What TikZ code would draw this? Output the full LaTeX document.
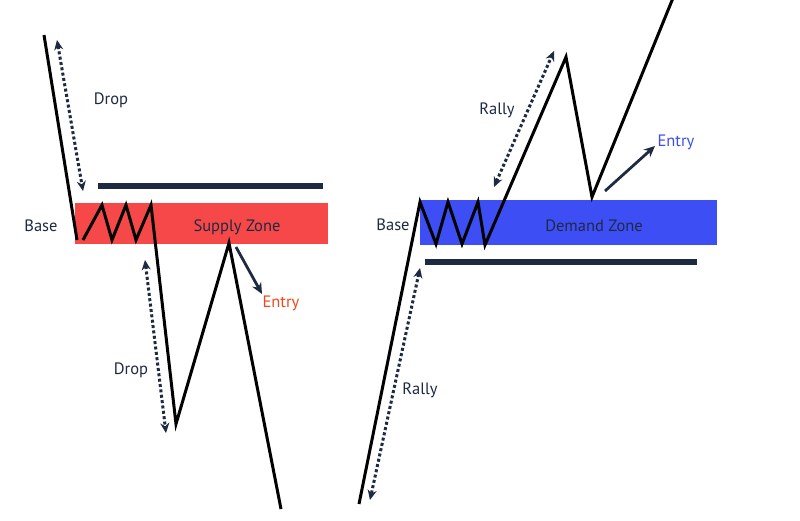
\documentclass[tikz,border=0pt]{standalone}
\usepackage{fontspec}
\setmainfont{PT Sans}
\usetikzlibrary{arrows.meta}
\definecolor{navy}{RGB}{30,42,66}
\definecolor{supred}{RGB}{246,72,72}
\definecolor{demblue}{RGB}{62,78,245}
\definecolor{entryred}{RGB}{240,72,30}
\definecolor{entryblue}{RGB}{60,80,230}
\begin{document}
\begin{tikzpicture}[x=1pt,y=-1pt,
  price/.style={line width=3pt,black,line join=miter},
  level/.style={line width=5.5pt,navy},
  move/.style={line width=3pt,navy,dash pattern=on 3pt off 2.4pt,{Stealth[length=10pt,width=9pt]}-{Stealth[length=10pt,width=9pt]}},
  entryarrow/.style={line width=2.8pt,navy,-{Stealth[length=11pt,width=10pt]}},
  lbl/.style={font=\fontsize{16.5}{18}\selectfont,text=navy,inner sep=0pt}]
\useasboundingbox (0,0) rectangle (800,520);
\fill[white] (0,0) rectangle (800,520);
% ---------- Supply side ----------
\fill[supred] (75,203) rectangle (328,244);
\node[lbl] (sz) at (237,227) {Supply Zone};
\draw[level] (98,186) coordinate (sl1) -- (323,186) coordinate (sl2);
\coordinate (s0) at (44,35);
\coordinate (s1) at (77,240);
\draw[price] (s0) -- (s1);
\coordinate (b1) at (83,240);
\coordinate (b2) at (102,205);
\coordinate (b3) at (112,240);
\coordinate (b4) at (126,205);
\coordinate (b5) at (136,240);
\coordinate (b6) at (151,205);
\coordinate (s2) at (176,424);
\coordinate (s3) at (229,243);
\coordinate (s4) at (281,509);
\draw[price] (b1) -- (b2) -- (b3) -- (b4) -- (b5) -- (b6) -- (s2) -- (s3) -- (s4);
\coordinate (d1a) at (57,40);
\coordinate (d1b) at (83,191);
\draw[move] (d1a) -- (d1b);
\node[lbl] (drop1) at (111,100) {Drop};
\coordinate (d2a) at (145,260);
\coordinate (d2b) at (166,433);
\draw[move] (d2a) -- (d2b);
\node[lbl] (drop2) at (131,370) {Drop};
\node[lbl] (base1) at (41,226) {Base};
\coordinate (e1a) at (236,247);
\coordinate (e1b) at (262,294);
\draw[entryarrow] (e1a) -- (e1b);
\node[lbl,text=entryred] (entry1) at (281,303) {Entry};
% ---------- Demand side ----------
\fill[demblue] (420,200) rectangle (717,245);
\node[lbl] (dz) at (594,226) {Demand Zone};
\draw[level] (425,262) coordinate (dl1) -- (697,262) coordinate (dl2);
\coordinate (r0) at (359,504);
\coordinate (r1) at (420,202);
\coordinate (r2) at (436,244);
\coordinate (r3) at (448,202);
\coordinate (r4) at (462,244);
\coordinate (r5) at (478,202);
\coordinate (r6) at (485,245);
\coordinate (r7) at (566,57);
\coordinate (r8) at (592,197);
\coordinate (r9) at (673,-2);
\draw[price] (r0) -- (r1) -- (r2) -- (r3) -- (r4) -- (r5) -- (r6) -- (r7) -- (r8) -- (r9);
\coordinate (u1a) at (494,187);
\coordinate (u1b) at (554,51);
\draw[move] (u1a) -- (u1b);
\node[lbl] (rally1) at (497,110) {Rally};
\coordinate (u2a) at (420,268);
\coordinate (u2b) at (370,500);
\draw[move] (u2a) -- (u2b);
\node[lbl] (rally2) at (420,390) {Rally};
\node[lbl] (base2) at (393,225) {Base};
\coordinate (e2a) at (605,191);
\coordinate (e2b) at (655,146);
\draw[entryarrow] (e2a) -- (e2b);
\node[lbl,text=entryblue] (entry2) at (676,142) {Entry};
\end{tikzpicture}
\end{document}
